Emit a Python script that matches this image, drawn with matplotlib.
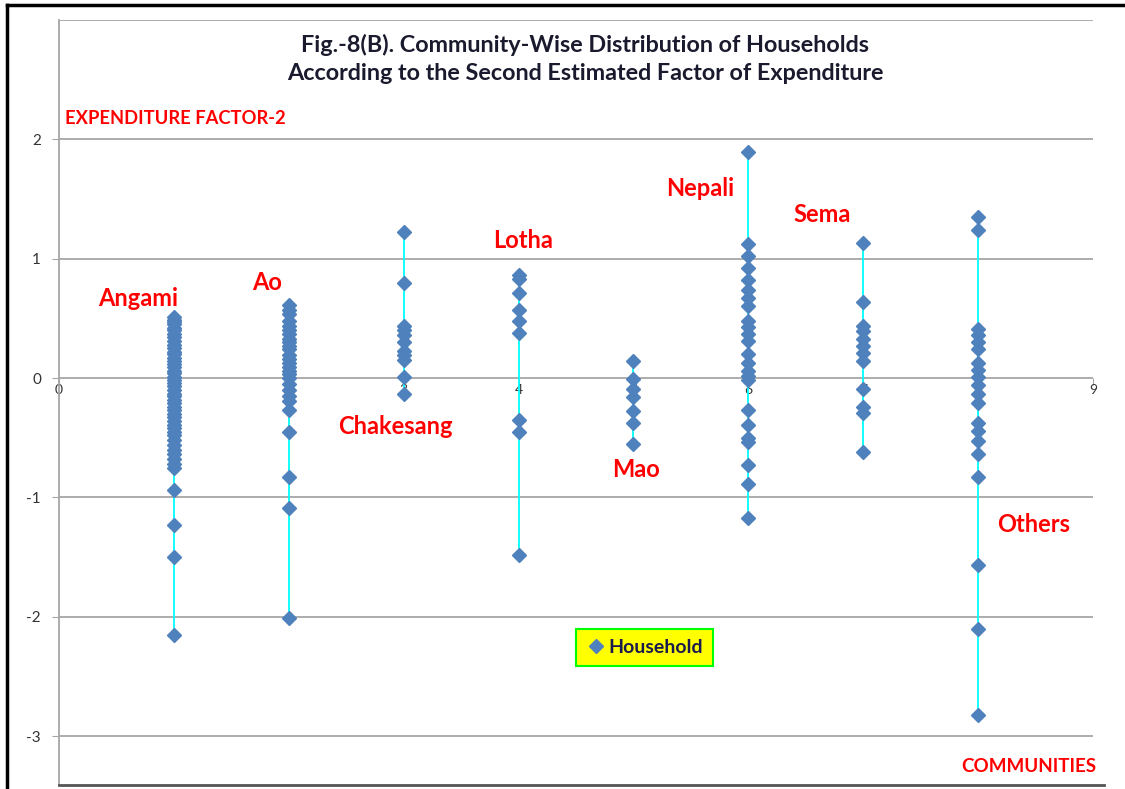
import numpy as np
import matplotlib
matplotlib.use('Agg')
import matplotlib.pyplot as plt
from matplotlib.lines import Line2D

plt.rcParams['font.family'] = ['Lato', 'DejaVu Sans']

# community codes on x axis and the household scores (second expenditure factor)
communities = ['Angami', 'Ao', 'Chakesang', 'Lotha', 'Mao', 'Nepali', 'Sema', 'Others']
codes = [1, 2, 3, 4, 5, 6, 7, 8]

angami = [0.51, 0.49, 0.47, 0.45, 0.42, 0.40, 0.37, 0.34, 0.31, 0.28, 0.25, 0.22, 0.20,
          0.17, 0.14, 0.12, 0.09, 0.06, 0.04, 0.01, -0.02, -0.04, -0.07, -0.10, -0.13,
          -0.15, -0.18, -0.21, -0.24, -0.27, -0.30, -0.33, -0.36, -0.39, -0.42, -0.45,
          -0.48, -0.52, -0.56, -0.60, -0.64, -0.68, -0.72, -0.75, -0.94, -1.23, -1.50, -2.15]
ao = [0.61, 0.57, 0.54, 0.48, 0.44, 0.40, 0.37, 0.33, 0.30, 0.27, 0.24, 0.19, 0.16,
      0.13, 0.09, 0.06, 0.03, 0.0, -0.05, -0.10, -0.15, -0.19, -0.27, -0.45, -0.83,
      -1.09, -2.01]
chakesang = [1.22, 0.80, 0.44, 0.40, 0.36, 0.30, 0.23, 0.19, 0.15, 0.01, -0.13]
lotha = [0.86, 0.83, 0.71, 0.57, 0.48, 0.38, -0.35, -0.45, -1.48]
mao = [0.14, -0.01, -0.09, -0.16, -0.28, -0.38, -0.55]
nepali = [1.89, 1.12, 1.02, 0.92, 0.82, 0.74, 0.67, 0.60, 0.48, 0.43, 0.37, 0.31, 0.20,
          0.13, 0.06, 0.02, -0.02, -0.27, -0.39, -0.50, -0.54, -0.73, -0.89, -1.17]
sema = [1.13, 0.64, 0.44, 0.39, 0.33, 0.27, 0.21, 0.14, -0.09, -0.24, -0.29, -0.62]
others = [1.35, 1.24, 0.41, 0.36, 0.30, 0.24, 0.13, 0.07, 0.01, -0.06, -0.13, -0.21,
          -0.38, -0.44, -0.53, -0.64, -0.83, -1.57, -2.10, -2.82]
groups = [angami, ao, chakesang, lotha, mao, nepali, sema, others]

# label positions (data coords) for the community names
label_x = [0.69, 1.81, 2.93, 4.04, 5.02, 5.58, 6.64, 8.48]
label_y = [0.67, 0.80, -0.41, 1.15, -0.77, 1.59, 1.37, -1.23]

W, H = 1125, 789
fig = plt.figure(figsize=(W / 100, H / 100), dpi=100)
ax = fig.add_axes([59 / W, 1 - 785 / H, (1093 - 59) / W, 765 / H])

ax.set_xlim(0, 9)
ax.set_ylim(-3.41, 3.0)

grid_c = '#A6A6A6'
for yv in [-3, -2, -1, 0, 1, 2, 3]:
    ax.axhline(yv, color=grid_c, lw=1.3, zorder=1)

# high-low lines
for c, g in zip(codes, groups):
    ax.vlines(c, min(g), max(g), color='#00FFFF', lw=1.3, zorder=2)

blue = '#4F81BD'
for c, g in zip(codes, groups):
    ax.plot([c] * len(g), g, 'D', color=blue, ms=7, mec=blue, zorder=3)

for s in ['top', 'right']:
    ax.spines[s].set_visible(False)
ax.spines['left'].set_color(grid_c)
ax.spines['left'].set_linewidth(1.3)
ax.spines['bottom'].set_position(('data', 0))
ax.spines['bottom'].set_visible(False)

ax.set_yticks([-3, -2, -1, 0, 1, 2])
ax.set_yticklabels(['-3', '-2', '-1', '0', '1', '2'])
ax.tick_params(axis='y', length=5, color=grid_c, labelsize=11, labelcolor='#333333', pad=8)
ax.set_xticks(range(10))
ax.tick_params(axis='x', length=5, color=grid_c, labelsize=10, labelcolor='#333333',
               pad=-1, zorder=5)

# community names
for name, lx, ly in zip(communities, label_x, label_y):
    ax.text(lx, ly, name, color='#FF0000', fontsize=17, fontweight='bold',
            ha='center', va='center', zorder=4)

fig.text(65 / W, 1 - 118 / H, 'EXPENDITURE FACTOR-2', color='#FF0000', fontsize=13.2,
         fontweight='bold', ha='left', va='center')
fig.text(1096 / W, 1 - 766 / H, 'COMMUNITIES', color='#FF0000', fontsize=13.5,
         fontweight='bold', ha='right', va='center')

fig.text(585 / W, 1 - 45 / H, 'Fig.-8(B). Community-Wise Distribution of Households',
         fontsize=16.8, fontweight='bold', color='#1A1A2E', ha='center', va='center')
fig.text(585 / W, 1 - 73 / H, 'According to the Second Estimated Factor of Expenditure',
         fontsize=16.8, fontweight='bold', color='#1A1A2E', ha='center', va='center')

handle = Line2D([], [], marker='D', color=blue, ls='none', ms=7)
leg = ax.legend([handle], ['Household'], loc='center',
                bbox_to_anchor=(0.566, 0.180), frameon=True, fancybox=False,
                facecolor='#FFFF00', edgecolor='#00FF00', framealpha=1,
                prop={'weight': 'bold', 'size': 14}, handletextpad=0.1,
                handlelength=1.1, borderpad=0.5, borderaxespad=0)
leg.get_frame().set_linewidth(1.5)
for t in leg.get_texts():
    t.set_color('#1A1A4E')

# chart border
fig.add_artist(Line2D([7 / W, 7 / W], [0, 1 - 5 / H], color='black', lw=2.5))
fig.add_artist(Line2D([7 / W, 1], [1 - 5 / H, 1 - 5 / H], color='black', lw=2.5))
fig.add_artist(Line2D([59 / W, 1104 / W], [1 - 785 / H, 1 - 785 / H], color='#555555', lw=2))

fig.savefig('out.png', dpi=100)
